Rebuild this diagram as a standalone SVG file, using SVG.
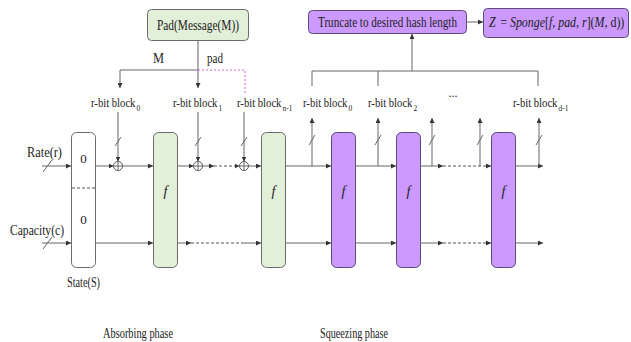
<svg xmlns="http://www.w3.org/2000/svg" width="631" height="342" viewBox="0 0 631 342">
<defs>
<marker id="ah" viewBox="0 0 10 10" refX="10" refY="5" markerWidth="5" markerHeight="5" orient="auto" markerUnits="userSpaceOnUse"><path d="M0,0 L10,5 L0,10 Z" fill="#333"/></marker>
<style>
.t{font-family:"Liberation Serif","Times New Roman",serif;fill:#222;}
.lb{font-family:"Liberation Serif","Times New Roman",serif;fill:#222;font-size:13px;}
.sub{font-family:"Liberation Serif","Times New Roman",serif;fill:#222;font-size:9px;}
.ln{stroke:#666;stroke-width:1;fill:none;}
.ar{stroke:#666;stroke-width:1;fill:none;marker-end:url(#ah);}
.ds{stroke:#555;stroke-width:1;fill:none;stroke-dasharray:3,2;}
.dsa{stroke:#555;stroke-width:1;fill:none;stroke-dasharray:3,2;marker-end:url(#ah);}
.pk{stroke:#cc66cc;stroke-width:1;fill:none;stroke-dasharray:2,2;}
.sl{stroke:#666;stroke-width:1;}
.g{fill:#e2efd9;stroke:#6b6b6b;stroke-width:1;}
.p{fill:#cc99ff;stroke:#5e4a78;stroke-width:1;}
.w{fill:#fff;stroke:#6b6b6b;stroke-width:1;}
.xor{fill:#fff;stroke:#555;stroke-width:1;}
</style>
</defs>

<g id="pad">
<rect class="g" x="147.5" y="9.5" width="101" height="31" rx="4"/>
<text class="t" x="157" y="29.5" font-size="14" textLength="82" lengthAdjust="spacingAndGlyphs">Pad(Message(M))</text>
</g>
<g id="truncate">
<rect class="p" x="308.5" y="10.5" width="158" height="23" rx="4"/>
<text class="t" x="318" y="27" font-size="14" textLength="139" lengthAdjust="spacingAndGlyphs">Truncate to desired hash length</text>
</g>
<g id="output">
<rect class="p" x="483.5" y="8.5" width="145" height="29" rx="4"/>
<g transform="translate(489,27) scale(0.85,1)">
<text class="t" x="0" y="0" font-size="14"><tspan font-style="italic">Z</tspan><tspan dx="2"> = </tspan><tspan font-style="italic">Sponge</tspan>[<tspan font-style="italic">f</tspan>, <tspan font-style="italic">pad</tspan>, <tspan font-style="italic">r</tspan>](<tspan font-style="italic">M</tspan>, d))</text>
</g>
</g>

<g id="state">
<rect class="w" x="71.5" y="132.5" width="24" height="135" rx="5"/>
<line class="ds" x1="72" y1="188" x2="95" y2="188"/>
<text class="t" x="83.5" y="163" font-size="13" text-anchor="middle" font-family="Liberation Sans">0</text>
<text class="t" x="83.5" y="224" font-size="13" text-anchor="middle" font-family="Liberation Sans">0</text>
<text class="t" x="67" y="287" font-size="14" textLength="33" lengthAdjust="spacingAndGlyphs">State(S)</text>
</g>
<g id="f1"><rect class="g" x="153.5" y="132.5" width="24" height="135" rx="5"/><text class="t" x="165.5" y="196" font-size="14" font-style="italic" text-anchor="middle">f</text></g>
<g id="f2"><rect class="g" x="261.5" y="132.5" width="24" height="135" rx="5"/><text class="t" x="273.5" y="196" font-size="14" font-style="italic" text-anchor="middle">f</text></g>
<g id="f3"><rect class="p" x="331.5" y="132.5" width="24" height="135" rx="5"/><text class="t" x="343.5" y="196" font-size="14" font-style="italic" text-anchor="middle">f</text></g>
<g id="f4"><rect class="p" x="396.5" y="132.5" width="24" height="135" rx="5"/><text class="t" x="408.5" y="196" font-size="14" font-style="italic" text-anchor="middle">f</text></g>
<g id="f5"><rect class="p" x="491.5" y="132.5" width="24" height="135" rx="5"/><text class="t" x="503.5" y="196" font-size="14" font-style="italic" text-anchor="middle">f</text></g>

<g id="xors">
<g id="xor1"><circle class="xor" cx="118" cy="166" r="4.5"/><path class="ln" d="M113.5,166 H122.5 M118,161.5 V170.5"/></g>
<g id="xor2"><circle class="xor" cx="198" cy="166" r="4.5"/><path class="ln" d="M193.5,166 H202.5 M198,161.5 V170.5"/></g>
<g id="xor3"><circle class="xor" cx="244" cy="166" r="4.5"/><path class="ln" d="M239.5,166 H248.5 M244,161.5 V170.5"/></g>
</g>

<g id="labels">
<text class="t" x="27" y="157" font-size="14" textLength="35" lengthAdjust="spacingAndGlyphs">Rate(r)</text>
<text class="t" x="10" y="235" font-size="14" textLength="54" lengthAdjust="spacingAndGlyphs">Capacity(c)</text>
<text class="t" x="153" y="63" font-size="14" textLength="11" lengthAdjust="spacingAndGlyphs">M</text>
<text class="t" x="207" y="63" font-size="14" textLength="16" lengthAdjust="spacingAndGlyphs">pad</text>
<g transform="translate(91,107) scale(0.82,1)"><text class="lb" x="0" y="0">r-bit block</text><text class="sub" x="55.5" y="3.5">0</text></g>
<g transform="translate(173,107) scale(0.82,1)"><text class="lb" x="0" y="0">r-bit block</text><text class="sub" x="55.5" y="3.5">1</text></g>
<g transform="translate(237,107) scale(0.82,1)"><text class="lb" x="0" y="0">r-bit block</text><text class="sub" x="55.5" y="3.5">n-1</text></g>
<g transform="translate(303,107) scale(0.82,1)"><text class="lb" x="0" y="0">r-bit block</text><text class="sub" x="55.5" y="3.5">0</text></g>
<g transform="translate(368,107) scale(0.82,1)"><text class="lb" x="0" y="0">r-bit block</text><text class="sub" x="55.5" y="3.5">2</text></g>
<text class="t" x="453" y="97" font-size="12" text-anchor="middle">...</text>
<g transform="translate(513,107) scale(0.82,1)"><text class="lb" x="0" y="0">r-bit block</text><text class="sub" x="55.5" y="3.5">d-1</text></g>
<text class="t" x="103" y="338" font-size="14" textLength="70" lengthAdjust="spacingAndGlyphs">Absorbing phase</text>
<text class="t" x="320" y="338" font-size="14" textLength="68" lengthAdjust="spacingAndGlyphs">Squeezing phase</text>
</g>

<g id="connectors">
<line class="ar" x1="198" y1="40" x2="198" y2="88"/>
<line class="ln" x1="120" y1="70" x2="198" y2="70"/>
<line class="ar" x1="120" y1="70" x2="120" y2="88"/>
<path class="pk" d="M198,70 H245 V95"/>
<line class="ar" x1="412" y1="71" x2="412" y2="34"/>
<line class="ln" x1="312" y1="71" x2="538" y2="71"/>
<line class="ln" x1="312" y1="71" x2="312" y2="86"/>
<line class="ln" x1="378" y1="71" x2="378" y2="86"/>
<line class="ln" x1="538" y1="71" x2="538" y2="86"/>
<line class="ar" x1="466" y1="22" x2="483" y2="22"/>
<line class="ar" x1="42" y1="166" x2="71" y2="166"/>
<line class="sl" x1="43" y1="172" x2="52" y2="160"/>
<line class="ar" x1="42" y1="243" x2="71" y2="243"/>
<line class="sl" x1="43" y1="249" x2="52" y2="237"/>
<line class="ar" x1="118" y1="112" x2="118" y2="161.5"/>
<line class="sl" x1="115" y1="146" x2="121" y2="137"/>
<line class="ar" x1="198" y1="112" x2="198" y2="161.5"/>
<line class="sl" x1="195" y1="146" x2="201" y2="137"/>
<line class="ar" x1="244" y1="112" x2="244" y2="161.5"/>
<line class="sl" x1="241" y1="146" x2="247" y2="137"/>
<line class="ar" x1="96" y1="166" x2="113.5" y2="166"/>
<line class="ar" x1="122.5" y1="166" x2="153" y2="166"/>
<line class="ar" x1="177" y1="166" x2="193.5" y2="166"/>
<line class="ar" x1="202.5" y1="166" x2="214" y2="166"/>
<line class="dsa" x1="214" y1="166" x2="239.5" y2="166"/>
<line class="ar" x1="248.5" y1="166" x2="261" y2="166"/>
<line class="ar" x1="285" y1="166" x2="331" y2="166"/>
<line class="ar" x1="355" y1="166" x2="396" y2="166"/>
<line class="ar" x1="420" y1="166" x2="443" y2="166"/>
<line class="dsa" x1="443" y1="166" x2="491" y2="166"/>
<line class="ar" x1="515" y1="166" x2="543" y2="166"/>
<line class="ar" x1="312" y1="166" x2="312" y2="118"/>
<line class="sl" x1="309" y1="145" x2="315" y2="135"/>
<line class="ar" x1="378" y1="166" x2="378" y2="118"/>
<line class="sl" x1="375" y1="145" x2="381" y2="135"/>
<line class="ar" x1="432" y1="166" x2="432" y2="118"/>
<line class="sl" x1="429" y1="145" x2="435" y2="135"/>
<line class="ar" x1="480" y1="166" x2="480" y2="118"/>
<line class="sl" x1="477" y1="145" x2="483" y2="135"/>
<line class="ar" x1="539" y1="166" x2="539" y2="118"/>
<line class="sl" x1="536" y1="145" x2="542" y2="135"/>
<line class="ar" x1="96" y1="243" x2="153" y2="243"/>
<line class="ar" x1="177" y1="243" x2="191" y2="243"/>
<line class="ds" x1="191" y1="243" x2="243" y2="243"/>
<line class="ar" x1="243" y1="243" x2="261" y2="243"/>
<line class="ar" x1="285" y1="243" x2="331" y2="243"/>
<line class="ar" x1="355" y1="243" x2="396" y2="243"/>
<line class="ar" x1="420" y1="243" x2="443" y2="243"/>
<line class="dsa" x1="443" y1="243" x2="491" y2="243"/>
<line class="ar" x1="515" y1="243" x2="543" y2="243"/>
</g>
</svg>
